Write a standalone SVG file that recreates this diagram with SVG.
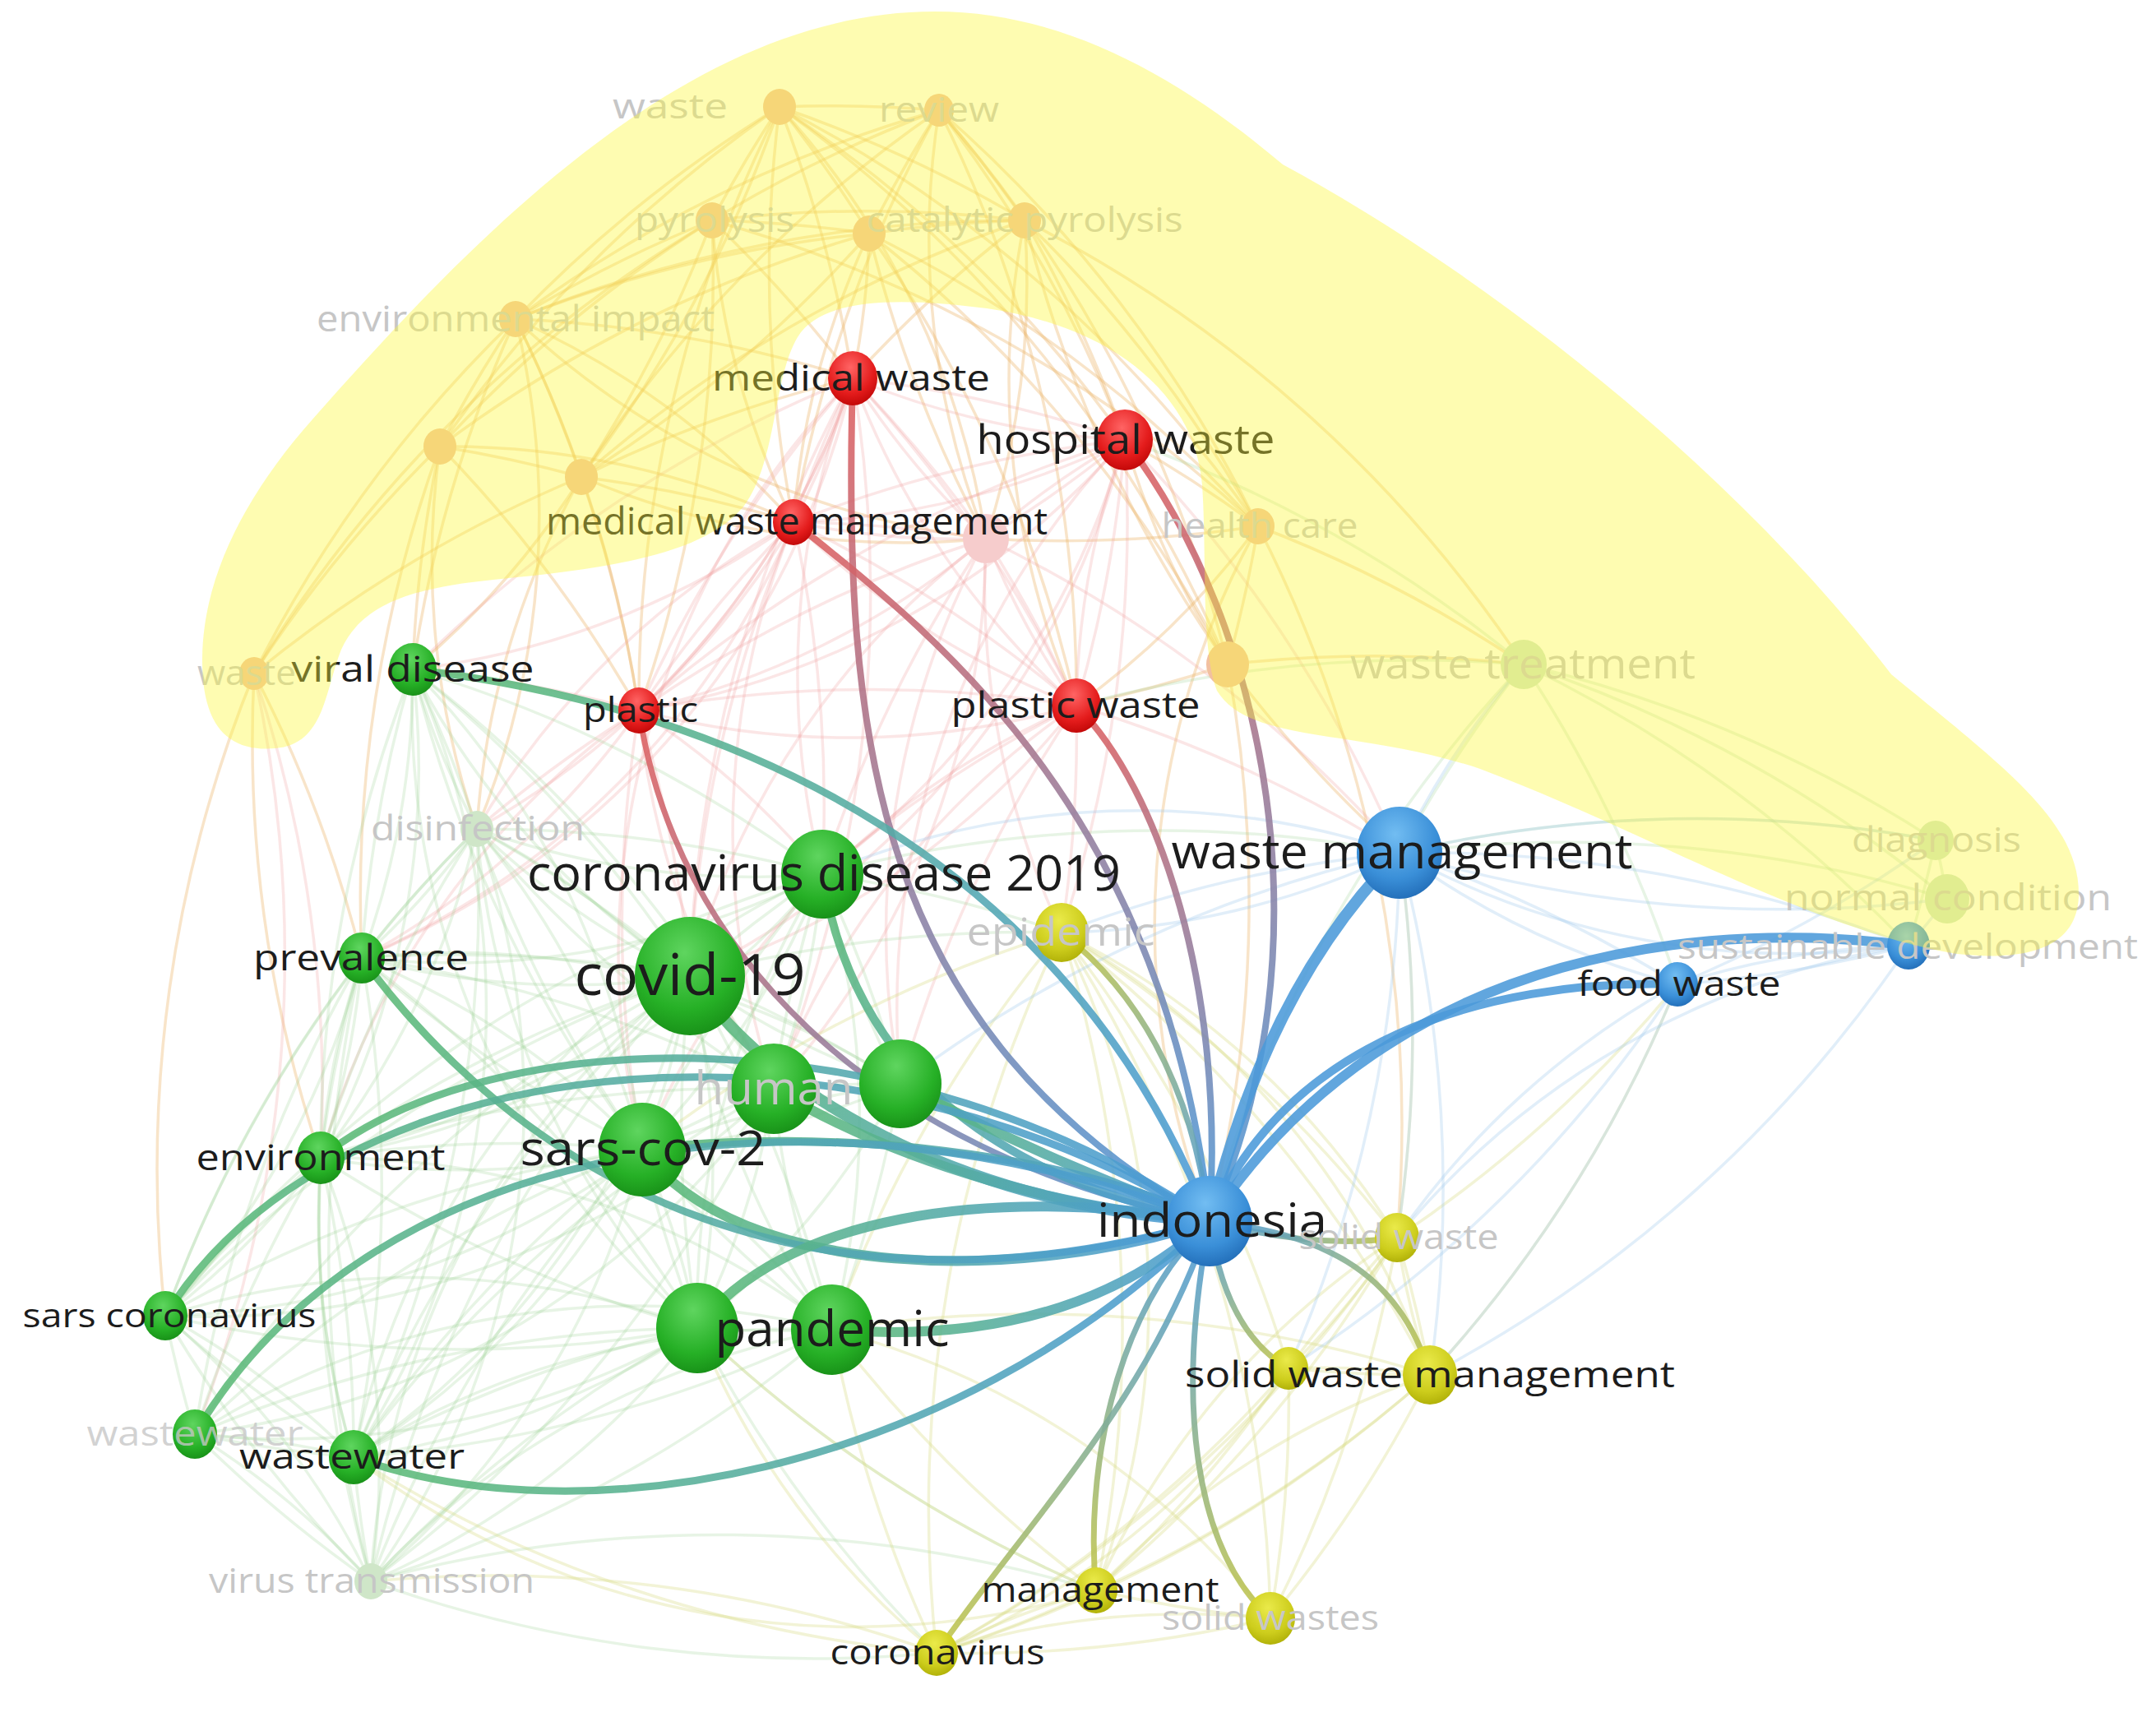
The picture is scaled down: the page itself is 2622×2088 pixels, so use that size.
<svg xmlns="http://www.w3.org/2000/svg" width="2622" height="2088" viewBox="0 0 2622 2088">
<style>
.fo,.fp,.fg,.fy,.fb{fill:none;stroke-width:3.5}
.fo{stroke:#ecb46a;stroke-opacity:.36}
.fp{stroke:#ee9e9e;stroke-opacity:.26}
.fg{stroke:#9ad094;stroke-opacity:.24}
.fy{stroke:#d9db86;stroke-opacity:.34}
.fb{stroke:#9cc6ea;stroke-opacity:.3}
.me{fill:none;stroke-opacity:.88;stroke-linecap:round}
.cR{stop-color:#df5e5e}.cG{stop-color:#5dbb74}.cB{stop-color:#4b9ad9}.cY{stop-color:#c3c548}
.lb{font-family:"Open Sans","Liberation Sans",sans-serif;fill:#1c1c1c;text-anchor:middle}
.fd{fill:#c6c6c6}
.nG{fill:url(#rG)}.nR{fill:url(#rR)}.nB{fill:url(#rB)}.nY{fill:url(#rY)}
.nfo{fill:#f2c0a0}.nfg{fill:#cfe6c8}.nfp{fill:#f6cccc}
</style>
<defs>
<radialGradient id="rG" cx="0.45" cy="0.3" r="0.8"><stop offset="0" stop-color="#5fd55f"/><stop offset="0.6" stop-color="#26b026"/><stop offset="1" stop-color="#138513"/></radialGradient>
<radialGradient id="rR" cx="0.45" cy="0.3" r="0.8"><stop offset="0" stop-color="#ff6464"/><stop offset="0.6" stop-color="#e41c1c"/><stop offset="1" stop-color="#b50000"/></radialGradient>
<radialGradient id="rB" cx="0.45" cy="0.3" r="0.8"><stop offset="0" stop-color="#72bdf2"/><stop offset="0.6" stop-color="#3a8fd8"/><stop offset="1" stop-color="#1a62ad"/></radialGradient>
<radialGradient id="rY" cx="0.45" cy="0.3" r="0.8"><stop offset="0" stop-color="#eaea4a"/><stop offset="0.6" stop-color="#cdcd1c"/><stop offset="1" stop-color="#a5a500"/></radialGradient>
<linearGradient id="g1" gradientUnits="userSpaceOnUse" x1="1037" y1="460" x2="1471" y2="1485"><stop offset="0" class="cR"/><stop offset="1" class="cB"/></linearGradient>
<linearGradient id="g2" gradientUnits="userSpaceOnUse" x1="965" y1="635" x2="1471" y2="1485"><stop offset="0" class="cR"/><stop offset="1" class="cB"/></linearGradient>
<linearGradient id="g3" gradientUnits="userSpaceOnUse" x1="1368" y1="535" x2="1471" y2="1485"><stop offset="0" class="cR"/><stop offset="1" class="cB"/></linearGradient>
<linearGradient id="g4" gradientUnits="userSpaceOnUse" x1="1309" y1="858" x2="1471" y2="1485"><stop offset="0" class="cR"/><stop offset="1" class="cB"/></linearGradient>
<linearGradient id="g5" gradientUnits="userSpaceOnUse" x1="777" y1="864" x2="1471" y2="1485"><stop offset="0" class="cR"/><stop offset="1" class="cB"/></linearGradient>
<linearGradient id="g6" gradientUnits="userSpaceOnUse" x1="502" y1="814" x2="1471" y2="1485"><stop offset="0" class="cG"/><stop offset="1" class="cB"/></linearGradient>
<linearGradient id="g7" gradientUnits="userSpaceOnUse" x1="1291" y1="1134" x2="1471" y2="1485"><stop offset="0" class="cY"/><stop offset="1" class="cB"/></linearGradient>
<linearGradient id="g8" gradientUnits="userSpaceOnUse" x1="1000" y1="1063" x2="1471" y2="1485"><stop offset="0" class="cG"/><stop offset="1" class="cB"/></linearGradient>
<linearGradient id="g9" gradientUnits="userSpaceOnUse" x1="839" y1="1187" x2="1471" y2="1485"><stop offset="0" class="cG"/><stop offset="1" class="cB"/></linearGradient>
<linearGradient id="g10" gradientUnits="userSpaceOnUse" x1="941" y1="1324" x2="1471" y2="1485"><stop offset="0" class="cG"/><stop offset="1" class="cB"/></linearGradient>
<linearGradient id="g11" gradientUnits="userSpaceOnUse" x1="1095" y1="1318" x2="1471" y2="1485"><stop offset="0" class="cG"/><stop offset="1" class="cB"/></linearGradient>
<linearGradient id="g12" gradientUnits="userSpaceOnUse" x1="781" y1="1398" x2="1471" y2="1485"><stop offset="0" class="cG"/><stop offset="1" class="cB"/></linearGradient>
<linearGradient id="g13" gradientUnits="userSpaceOnUse" x1="440" y1="1165" x2="1471" y2="1485"><stop offset="0" class="cG"/><stop offset="1" class="cB"/></linearGradient>
<linearGradient id="g14" gradientUnits="userSpaceOnUse" x1="390" y1="1408" x2="1471" y2="1485"><stop offset="0" class="cG"/><stop offset="1" class="cB"/></linearGradient>
<linearGradient id="g15" gradientUnits="userSpaceOnUse" x1="201" y1="1600" x2="1471" y2="1485"><stop offset="0" class="cG"/><stop offset="1" class="cB"/></linearGradient>
<linearGradient id="g16" gradientUnits="userSpaceOnUse" x1="237" y1="1744" x2="1471" y2="1485"><stop offset="0" class="cG"/><stop offset="1" class="cB"/></linearGradient>
<linearGradient id="g17" gradientUnits="userSpaceOnUse" x1="430" y1="1772" x2="1471" y2="1485"><stop offset="0" class="cG"/><stop offset="1" class="cB"/></linearGradient>
<linearGradient id="g18" gradientUnits="userSpaceOnUse" x1="848" y1="1615" x2="1471" y2="1485"><stop offset="0" class="cG"/><stop offset="1" class="cB"/></linearGradient>
<linearGradient id="g19" gradientUnits="userSpaceOnUse" x1="1012" y1="1617" x2="1471" y2="1485"><stop offset="0" class="cG"/><stop offset="1" class="cB"/></linearGradient>
<linearGradient id="g20" gradientUnits="userSpaceOnUse" x1="1699" y1="1505" x2="1471" y2="1485"><stop offset="0" class="cY"/><stop offset="1" class="cB"/></linearGradient>
<linearGradient id="g21" gradientUnits="userSpaceOnUse" x1="1739" y1="1672" x2="1471" y2="1485"><stop offset="0" class="cY"/><stop offset="1" class="cB"/></linearGradient>
<linearGradient id="g22" gradientUnits="userSpaceOnUse" x1="1567" y1="1664" x2="1471" y2="1485"><stop offset="0" class="cY"/><stop offset="1" class="cB"/></linearGradient>
<linearGradient id="g23" gradientUnits="userSpaceOnUse" x1="1333" y1="1934" x2="1471" y2="1485"><stop offset="0" class="cY"/><stop offset="1" class="cB"/></linearGradient>
<linearGradient id="g24" gradientUnits="userSpaceOnUse" x1="1545" y1="1968" x2="1471" y2="1485"><stop offset="0" class="cY"/><stop offset="1" class="cB"/></linearGradient>
<linearGradient id="g25" gradientUnits="userSpaceOnUse" x1="1139" y1="2010" x2="1471" y2="1485"><stop offset="0" class="cY"/><stop offset="1" class="cB"/></linearGradient>
</defs>
<rect width="2622" height="2088" fill="#ffffff"/>
<g id="connectors">
<g id="faint-edges">
<path class="fo" d="M948 130A1600 1600 0 0 1 1142 134"/>
<path class="fo" d="M948 130A1600 1600 0 0 0 866 268"/>
<path class="fo" d="M948 130A1600 1600 0 0 1 1057 284"/>
<path class="fo" d="M948 130A1600 1600 0 0 1 1246 268"/>
<path class="fo" d="M948 130A1600 1600 0 0 0 627 388"/>
<path class="fo" d="M948 130A1600 1600 0 0 0 535 543"/>
<path class="fo" d="M948 130A1600 1600 0 0 1 707 580"/>
<path class="fo" d="M948 130A1600 1600 0 0 1 1530 640"/>
<path class="fo" d="M948 130A1600 1600 0 0 1 1037 460"/>
<path class="fo" d="M948 130A1600 1600 0 0 1 1368 535"/>
<path class="fo" d="M948 130A1600 1600 0 0 0 965 635"/>
<path class="fo" d="M948 130A1600 1600 0 0 1 1493 808"/>
<path class="fo" d="M948 130A1600 1600 0 0 0 777 864"/>
<path class="fo" d="M1142 134A1600 1600 0 0 0 866 268"/>
<path class="fo" d="M1142 134A1600 1600 0 0 0 1057 284"/>
<path class="fo" d="M1142 134A1600 1600 0 0 1 1246 268"/>
<path class="fo" d="M1142 134A1600 1600 0 0 0 627 388"/>
<path class="fo" d="M1142 134A1600 1600 0 0 0 707 580"/>
<path class="fo" d="M1142 134A1600 1600 0 0 1 1530 640"/>
<path class="fo" d="M1142 134A1600 1600 0 0 1 1493 808"/>
<path class="fo" d="M1142 134A1600 1600 0 0 1 1368 535"/>
<path class="fo" d="M1142 134A1600 1600 0 0 0 965 635"/>
<path class="fo" d="M1142 134A1600 1600 0 0 1 1309 858"/>
<path class="fo" d="M866 268A1600 1600 0 0 1 1057 284"/>
<path class="fo" d="M866 268A1600 1600 0 0 1 1246 268"/>
<path class="fo" d="M866 268A1600 1600 0 0 0 627 388"/>
<path class="fo" d="M866 268A1600 1600 0 0 0 535 543"/>
<path class="fo" d="M866 268A1600 1600 0 0 1 707 580"/>
<path class="fo" d="M866 268A1600 1600 0 0 1 1037 460"/>
<path class="fo" d="M866 268A1600 1600 0 0 1 777 864"/>
<path class="fo" d="M866 268A1600 1600 0 0 0 309 819"/>
<path class="fo" d="M866 268A1600 1600 0 0 1 1530 640"/>
<path class="fo" d="M1057 284A1600 1600 0 0 1 1246 268"/>
<path class="fo" d="M1057 284A1600 1600 0 0 0 627 388"/>
<path class="fo" d="M1057 284A1600 1600 0 0 0 535 543"/>
<path class="fo" d="M1057 284A1600 1600 0 0 1 707 580"/>
<path class="fo" d="M1057 284A1600 1600 0 0 1 1530 640"/>
<path class="fo" d="M1057 284A1600 1600 0 0 1 1493 808"/>
<path class="fo" d="M1057 284A1600 1600 0 0 1 1309 858"/>
<path class="fo" d="M1057 284A1600 1600 0 0 0 1199 655"/>
<path class="fo" d="M1246 268A1600 1600 0 0 0 627 388"/>
<path class="fo" d="M1246 268A1600 1600 0 0 0 707 580"/>
<path class="fo" d="M1246 268A1600 1600 0 0 1 1530 640"/>
<path class="fo" d="M1246 268A1600 1600 0 0 0 1493 808"/>
<path class="fo" d="M1246 268A1600 1600 0 0 1 1853 808"/>
<path class="fo" d="M1246 268A1600 1600 0 0 1 1368 535"/>
<path class="fo" d="M1246 268A1600 1600 0 0 0 1037 460"/>
<path class="fo" d="M627 388A1600 1600 0 0 0 535 543"/>
<path class="fo" d="M627 388A1600 1600 0 0 1 707 580"/>
<path class="fo" d="M627 388A1600 1600 0 0 0 309 819"/>
<path class="fo" d="M627 388A1600 1600 0 0 0 502 814"/>
<path class="fo" d="M627 388A1600 1600 0 0 1 777 864"/>
<path class="fo" d="M627 388A1600 1600 0 0 1 1037 460"/>
<path class="fo" d="M535 543A1600 1600 0 0 1 707 580"/>
<path class="fo" d="M535 543A1600 1600 0 0 0 309 819"/>
<path class="fo" d="M535 543A1600 1600 0 0 0 502 814"/>
<path class="fo" d="M535 543A1600 1600 0 0 1 777 864"/>
<path class="fo" d="M535 543A1600 1600 0 0 0 440 1165"/>
<path class="fo" d="M707 580A1600 1600 0 0 1 965 635"/>
<path class="fo" d="M707 580A1600 1600 0 0 1 777 864"/>
<path class="fo" d="M707 580A1600 1600 0 0 0 309 819"/>
<path class="fo" d="M707 580A1600 1600 0 0 1 1037 460"/>
<path class="fo" d="M1493 808A1600 1600 0 0 0 1530 640"/>
<path class="fo" d="M1493 808A1600 1600 0 0 1 1309 858"/>
<path class="fo" d="M1493 808A1600 1600 0 0 1 1853 808"/>
<path class="fo" d="M1493 808A1600 1600 0 0 1 1471 1485"/>
<path class="fo" d="M1493 808A1600 1600 0 0 0 1702 1037"/>
<path class="fo" d="M1530 640A1600 1600 0 0 0 1368 535"/>
<path class="fo" d="M1530 640A1600 1600 0 0 1 1199 655"/>
<path class="fo" d="M1530 640A1600 1600 0 0 1 1853 808"/>
<path class="fo" d="M1530 640A1600 1600 0 0 1 1699 1505"/>
<path class="fo" d="M309 819A1600 1600 0 0 0 390 1408"/>
<path class="fo" d="M309 819A1600 1600 0 0 0 201 1600"/>
<path class="fo" d="M309 819A1600 1600 0 0 1 440 1165"/>
<path class="fo" d="M948 130A1000 1000 0 0 1 1199 655"/>
<path class="fo" d="M1142 134A1000 1000 0 0 0 1199 655"/>
<path class="fo" d="M866 268A1000 1000 0 0 0 965 635"/>
<path class="fo" d="M1057 284A1000 1000 0 0 1 1037 460"/>
<path class="fo" d="M1057 284A1000 1000 0 0 0 965 635"/>
<path class="fo" d="M1246 268A1000 1000 0 0 1 1199 655"/>
<path class="fo" d="M1246 268A1000 1000 0 0 0 1309 858"/>
<path class="fo" d="M627 388A1000 1000 0 0 1 965 635"/>
<path class="fo" d="M627 388A1000 1000 0 0 0 1199 655"/>
<path class="fo" d="M535 543A1000 1000 0 0 1 965 635"/>
<path class="fo" d="M707 580A1000 1000 0 0 0 1199 655"/>
<path class="fo" d="M707 580A1000 1000 0 0 1 502 814"/>
<path class="fo" d="M535 543A1000 1000 0 0 0 580 1008"/>
<path class="fo" d="M627 388A1000 1000 0 0 1 580 1008"/>
<path class="fo" d="M707 580A1000 1000 0 0 0 580 1008"/>
<path class="fo" d="M1530 640A1000 1000 0 0 1 1309 858"/>
<path class="fo" d="M1530 640A1000 1000 0 0 0 1471 1485"/>
<path class="fo" d="M1493 808A1000 1000 0 0 1 1368 535"/>
<path class="fp" d="M1037 460A1600 1600 0 0 1 1368 535"/>
<path class="fp" d="M1037 460A1600 1600 0 0 0 965 635"/>
<path class="fp" d="M1037 460A1600 1600 0 0 1 1199 655"/>
<path class="fp" d="M1037 460A1600 1600 0 0 0 777 864"/>
<path class="fp" d="M1037 460A1600 1600 0 0 1 1309 858"/>
<path class="fp" d="M1037 460A1600 1600 0 0 0 839 1187"/>
<path class="fp" d="M1037 460A1600 1600 0 0 1 941 1324"/>
<path class="fp" d="M1037 460A1600 1600 0 0 0 502 814"/>
<path class="fp" d="M1368 535A1600 1600 0 0 0 965 635"/>
<path class="fp" d="M1368 535A1600 1600 0 0 1 1199 655"/>
<path class="fp" d="M1368 535A1600 1600 0 0 1 1309 858"/>
<path class="fp" d="M1368 535A1600 1600 0 0 0 777 864"/>
<path class="fp" d="M1368 535A1600 1600 0 0 1 1702 1037"/>
<path class="fp" d="M1368 535A1600 1600 0 0 1 1291 1134"/>
<path class="fp" d="M965 635A1600 1600 0 0 1 1199 655"/>
<path class="fp" d="M965 635A1600 1600 0 0 0 777 864"/>
<path class="fp" d="M965 635A1600 1600 0 0 1 1309 858"/>
<path class="fp" d="M965 635A1600 1600 0 0 0 839 1187"/>
<path class="fp" d="M965 635A1600 1600 0 0 1 1000 1063"/>
<path class="fp" d="M1199 655A1600 1600 0 0 0 777 864"/>
<path class="fp" d="M1199 655A1600 1600 0 0 1 1309 858"/>
<path class="fp" d="M1199 655A1600 1600 0 0 0 1000 1063"/>
<path class="fp" d="M1199 655A1600 1600 0 0 1 1702 1037"/>
<path class="fp" d="M777 864A1600 1600 0 0 1 1309 858"/>
<path class="fp" d="M777 864A1600 1600 0 0 0 502 814"/>
<path class="fp" d="M777 864A1600 1600 0 0 1 839 1187"/>
<path class="fp" d="M777 864A1600 1600 0 0 0 781 1398"/>
<path class="fp" d="M777 864A1600 1600 0 0 0 580 1008"/>
<path class="fp" d="M1309 858A1600 1600 0 0 1 1702 1037"/>
<path class="fp" d="M1309 858A1600 1600 0 0 1 1291 1134"/>
<path class="fp" d="M1309 858A1600 1600 0 0 0 1000 1063"/>
<path class="fp" d="M1309 858A1600 1600 0 0 0 1095 1318"/>
<path class="fp" d="M309 819A1600 1600 0 0 1 390 1408"/>
<path class="fp" d="M309 819A1600 1600 0 0 1 237 1744"/>
<path class="fp" d="M1037 460A1000 1000 0 0 1 580 1008"/>
<path class="fp" d="M1037 460A1000 1000 0 0 0 1000 1063"/>
<path class="fp" d="M1037 460A1000 1000 0 0 1 440 1165"/>
<path class="fp" d="M1037 460A1000 1000 0 0 0 781 1398"/>
<path class="fp" d="M1368 535A1000 1000 0 0 1 1000 1063"/>
<path class="fp" d="M1368 535A1000 1000 0 0 0 1095 1318"/>
<path class="fp" d="M1368 535A1000 1000 0 0 1 839 1187"/>
<path class="fp" d="M965 635A1000 1000 0 0 0 580 1008"/>
<path class="fp" d="M965 635A1000 1000 0 0 1 502 814"/>
<path class="fp" d="M965 635A1000 1000 0 0 0 941 1324"/>
<path class="fp" d="M965 635A1000 1000 0 0 1 440 1165"/>
<path class="fp" d="M1199 655A1000 1000 0 0 0 839 1187"/>
<path class="fp" d="M1199 655A1000 1000 0 0 1 941 1324"/>
<path class="fp" d="M1199 655A1000 1000 0 0 0 1095 1318"/>
<path class="fp" d="M777 864A1000 1000 0 0 1 440 1165"/>
<path class="fp" d="M777 864A1000 1000 0 0 0 390 1408"/>
<path class="fp" d="M777 864A1000 1000 0 0 0 941 1324"/>
<path class="fp" d="M777 864A1000 1000 0 0 1 1000 1063"/>
<path class="fp" d="M1309 858A1000 1000 0 0 1 839 1187"/>
<path class="fp" d="M1309 858A1000 1000 0 0 0 941 1324"/>
<path class="fp" d="M1309 858A1000 1000 0 0 0 781 1398"/>
<path class="fp" d="M1199 655A1000 1000 0 0 0 1291 1134"/>
<path class="fp" d="M1037 460A1000 1000 0 0 0 1368 535"/>
<path class="fp" d="M1037 460A1000 1000 0 0 1 965 635"/>
<path class="fp" d="M1037 460A1000 1000 0 0 0 1199 655"/>
<path class="fp" d="M1037 460A1000 1000 0 0 1 777 864"/>
<path class="fp" d="M1037 460A1000 1000 0 0 0 1309 858"/>
<path class="fp" d="M1368 535A1000 1000 0 0 1 965 635"/>
<path class="fp" d="M1368 535A1000 1000 0 0 0 1199 655"/>
<path class="fp" d="M1368 535A1000 1000 0 0 0 1309 858"/>
<path class="fp" d="M1368 535A1000 1000 0 0 1 777 864"/>
<path class="fp" d="M965 635A1000 1000 0 0 0 1199 655"/>
<path class="fp" d="M965 635A1000 1000 0 0 1 777 864"/>
<path class="fp" d="M965 635A1000 1000 0 0 0 1309 858"/>
<path class="fp" d="M1199 655A1000 1000 0 0 1 777 864"/>
<path class="fp" d="M1199 655A1000 1000 0 0 0 1309 858"/>
<path class="fp" d="M777 864A1000 1000 0 0 0 1309 858"/>
<path class="fg" d="M502 814A1600 1600 0 0 1 580 1008"/>
<path class="fg" d="M502 814A1600 1600 0 0 0 440 1165"/>
<path class="fg" d="M502 814A1600 1600 0 0 1 1000 1063"/>
<path class="fg" d="M502 814A1600 1600 0 0 1 839 1187"/>
<path class="fg" d="M502 814A1600 1600 0 0 0 390 1408"/>
<path class="fg" d="M502 814A1600 1600 0 0 0 781 1398"/>
<path class="fg" d="M502 814A1600 1600 0 0 1 941 1324"/>
<path class="fg" d="M580 1008A1600 1600 0 0 0 440 1165"/>
<path class="fg" d="M580 1008A1600 1600 0 0 1 839 1187"/>
<path class="fg" d="M580 1008A1600 1600 0 0 1 1000 1063"/>
<path class="fg" d="M580 1008A1600 1600 0 0 0 941 1324"/>
<path class="fg" d="M580 1008A1600 1600 0 0 0 390 1408"/>
<path class="fg" d="M580 1008A1600 1600 0 0 0 201 1600"/>
<path class="fg" d="M580 1008A1600 1600 0 0 1 430 1772"/>
<path class="fg" d="M580 1008A1600 1600 0 0 0 781 1398"/>
<path class="fg" d="M440 1165A1600 1600 0 0 0 390 1408"/>
<path class="fg" d="M440 1165A1600 1600 0 0 0 201 1600"/>
<path class="fg" d="M440 1165A1600 1600 0 0 1 839 1187"/>
<path class="fg" d="M440 1165A1600 1600 0 0 1 941 1324"/>
<path class="fg" d="M440 1165A1600 1600 0 0 0 781 1398"/>
<path class="fg" d="M440 1165A1600 1600 0 0 0 237 1744"/>
<path class="fg" d="M440 1165A1600 1600 0 0 1 430 1772"/>
<path class="fg" d="M440 1165A1600 1600 0 0 0 451 1923"/>
<path class="fg" d="M440 1165A1600 1600 0 0 1 848 1615"/>
<path class="fg" d="M390 1408A1600 1600 0 0 0 201 1600"/>
<path class="fg" d="M390 1408A1600 1600 0 0 0 237 1744"/>
<path class="fg" d="M390 1408A1600 1600 0 0 1 430 1772"/>
<path class="fg" d="M390 1408A1600 1600 0 0 0 451 1923"/>
<path class="fg" d="M390 1408A1600 1600 0 0 1 839 1187"/>
<path class="fg" d="M390 1408A1600 1600 0 0 1 781 1398"/>
<path class="fg" d="M390 1408A1600 1600 0 0 0 848 1615"/>
<path class="fg" d="M390 1408A1600 1600 0 0 1 941 1324"/>
<path class="fg" d="M201 1600A1600 1600 0 0 0 237 1744"/>
<path class="fg" d="M201 1600A1600 1600 0 0 0 430 1772"/>
<path class="fg" d="M201 1600A1600 1600 0 0 0 451 1923"/>
<path class="fg" d="M201 1600A1600 1600 0 0 1 839 1187"/>
<path class="fg" d="M201 1600A1600 1600 0 0 1 781 1398"/>
<path class="fg" d="M201 1600A1600 1600 0 0 0 848 1615"/>
<path class="fg" d="M201 1600A1600 1600 0 0 1 1000 1063"/>
<path class="fg" d="M237 1744A1600 1600 0 0 0 430 1772"/>
<path class="fg" d="M237 1744A1600 1600 0 0 0 451 1923"/>
<path class="fg" d="M237 1744A1600 1600 0 0 1 848 1615"/>
<path class="fg" d="M237 1744A1600 1600 0 0 1 781 1398"/>
<path class="fg" d="M237 1744A1600 1600 0 0 1 839 1187"/>
<path class="fg" d="M430 1772A1600 1600 0 0 0 451 1923"/>
<path class="fg" d="M430 1772A1600 1600 0 0 1 848 1615"/>
<path class="fg" d="M430 1772A1600 1600 0 0 0 1012 1617"/>
<path class="fg" d="M430 1772A1600 1600 0 0 1 781 1398"/>
<path class="fg" d="M430 1772A1600 1600 0 0 1 839 1187"/>
<path class="fg" d="M430 1772A1600 1600 0 0 1 941 1324"/>
<path class="fg" d="M451 1923A1600 1600 0 0 1 848 1615"/>
<path class="fg" d="M451 1923A1600 1600 0 0 0 1012 1617"/>
<path class="fg" d="M451 1923A1600 1600 0 0 1 781 1398"/>
<path class="fg" d="M451 1923A1600 1600 0 0 1 839 1187"/>
<path class="fg" d="M451 1923A1600 1600 0 0 0 941 1324"/>
<path class="fg" d="M451 1923A1600 1600 0 0 0 1139 2010"/>
<path class="fg" d="M451 1923A1600 1600 0 0 1 1333 1934"/>
<path class="fg" d="M839 1187A1600 1600 0 0 1 1000 1063"/>
<path class="fg" d="M839 1187A1600 1600 0 0 0 941 1324"/>
<path class="fg" d="M839 1187A1600 1600 0 0 1 1095 1318"/>
<path class="fg" d="M839 1187A1600 1600 0 0 0 848 1615"/>
<path class="fg" d="M839 1187A1600 1600 0 0 1 1012 1617"/>
<path class="fg" d="M839 1187A1600 1600 0 0 1 1291 1134"/>
<path class="fg" d="M1000 1063A1600 1600 0 0 0 941 1324"/>
<path class="fg" d="M1000 1063A1600 1600 0 0 1 1095 1318"/>
<path class="fg" d="M1000 1063A1600 1600 0 0 1 1291 1134"/>
<path class="fg" d="M1000 1063A1600 1600 0 0 1 1702 1037"/>
<path class="fg" d="M1000 1063A1600 1600 0 0 0 781 1398"/>
<path class="fg" d="M781 1398A1600 1600 0 0 0 848 1615"/>
<path class="fg" d="M781 1398A1600 1600 0 0 0 1012 1617"/>
<path class="fg" d="M781 1398A1600 1600 0 0 1 941 1324"/>
<path class="fg" d="M781 1398A1600 1600 0 0 1 1095 1318"/>
<path class="fg" d="M848 1615A1600 1600 0 0 0 1012 1617"/>
<path class="fg" d="M848 1615A1600 1600 0 0 0 1139 2010"/>
<path class="fg" d="M848 1615A1600 1600 0 0 0 1333 1934"/>
<path class="fg" d="M941 1324A1600 1600 0 0 1 1095 1318"/>
<path class="fg" d="M1095 1318A1600 1600 0 0 1 1012 1617"/>
<path class="fg" d="M502 814A1000 1000 0 0 0 580 1008"/>
<path class="fg" d="M502 814A1000 1000 0 0 1 440 1165"/>
<path class="fg" d="M502 814A1000 1000 0 0 0 839 1187"/>
<path class="fg" d="M502 814A1000 1000 0 0 1 390 1408"/>
<path class="fg" d="M502 814A1000 1000 0 0 1 781 1398"/>
<path class="fg" d="M502 814A1000 1000 0 0 0 848 1615"/>
<path class="fg" d="M502 814A1000 1000 0 0 1 430 1772"/>
<path class="fg" d="M580 1008A1000 1000 0 0 1 440 1165"/>
<path class="fg" d="M580 1008A1000 1000 0 0 0 839 1187"/>
<path class="fg" d="M580 1008A1000 1000 0 0 0 1000 1063"/>
<path class="fg" d="M580 1008A1000 1000 0 0 1 941 1324"/>
<path class="fg" d="M580 1008A1000 1000 0 0 1 390 1408"/>
<path class="fg" d="M580 1008A1000 1000 0 0 1 781 1398"/>
<path class="fg" d="M580 1008A1000 1000 0 0 0 848 1615"/>
<path class="fg" d="M580 1008A1000 1000 0 0 1 451 1923"/>
<path class="fg" d="M440 1165A1000 1000 0 0 1 390 1408"/>
<path class="fg" d="M440 1165A1000 1000 0 0 1 201 1600"/>
<path class="fg" d="M440 1165A1000 1000 0 0 0 839 1187"/>
<path class="fg" d="M440 1165A1000 1000 0 0 1 781 1398"/>
<path class="fg" d="M440 1165A1000 1000 0 0 0 430 1772"/>
<path class="fg" d="M440 1165A1000 1000 0 0 0 1000 1063"/>
<path class="fg" d="M440 1165A1000 1000 0 0 1 1095 1318"/>
<path class="fg" d="M390 1408A1000 1000 0 0 1 201 1600"/>
<path class="fg" d="M390 1408A1000 1000 0 0 0 430 1772"/>
<path class="fg" d="M390 1408A1000 1000 0 0 1 451 1923"/>
<path class="fg" d="M390 1408A1000 1000 0 0 0 839 1187"/>
<path class="fg" d="M390 1408A1000 1000 0 0 0 781 1398"/>
<path class="fg" d="M390 1408A1000 1000 0 0 1 1012 1617"/>
<path class="fg" d="M390 1408A1000 1000 0 0 0 1000 1063"/>
<path class="fg" d="M201 1600A1000 1000 0 0 1 430 1772"/>
<path class="fg" d="M201 1600A1000 1000 0 0 1 451 1923"/>
<path class="fg" d="M201 1600A1000 1000 0 0 0 781 1398"/>
<path class="fg" d="M201 1600A1000 1000 0 0 1 848 1615"/>
<path class="fg" d="M201 1600A1000 1000 0 0 0 941 1324"/>
<path class="fg" d="M237 1744A1000 1000 0 0 1 430 1772"/>
<path class="fg" d="M237 1744A1000 1000 0 0 1 451 1923"/>
<path class="fg" d="M237 1744A1000 1000 0 0 0 848 1615"/>
<path class="fg" d="M237 1744A1000 1000 0 0 1 1012 1617"/>
<path class="fg" d="M237 1744A1000 1000 0 0 0 941 1324"/>
<path class="fg" d="M430 1772A1000 1000 0 0 0 848 1615"/>
<path class="fg" d="M430 1772A1000 1000 0 0 1 1012 1617"/>
<path class="fg" d="M430 1772A1000 1000 0 0 0 781 1398"/>
<path class="fg" d="M430 1772A1000 1000 0 0 0 839 1187"/>
<path class="fg" d="M430 1772A1000 1000 0 0 1 1000 1063"/>
<path class="fg" d="M451 1923A1000 1000 0 0 0 848 1615"/>
<path class="fg" d="M451 1923A1000 1000 0 0 1 1012 1617"/>
<path class="fg" d="M451 1923A1000 1000 0 0 0 781 1398"/>
<path class="fg" d="M451 1923A1000 1000 0 0 1 839 1187"/>
<path class="fg" d="M839 1187A1000 1000 0 0 1 848 1615"/>
<path class="fg" d="M839 1187A1000 1000 0 0 0 1012 1617"/>
<path class="fg" d="M839 1187A1000 1000 0 0 0 1095 1318"/>
<path class="fg" d="M839 1187A1000 1000 0 0 1 781 1398"/>
<path class="fg" d="M1000 1063A1000 1000 0 0 1 941 1324"/>
<path class="fg" d="M1000 1063A1000 1000 0 0 0 1095 1318"/>
<path class="fg" d="M1000 1063A1000 1000 0 0 1 781 1398"/>
<path class="fg" d="M1000 1063A1000 1000 0 0 0 848 1615"/>
<path class="fg" d="M1000 1063A1000 1000 0 0 1 1012 1617"/>
<path class="fg" d="M781 1398A1000 1000 0 0 1 848 1615"/>
<path class="fg" d="M781 1398A1000 1000 0 0 1 1012 1617"/>
<path class="fg" d="M781 1398A1000 1000 0 0 0 1095 1318"/>
<path class="fg" d="M848 1615A1000 1000 0 0 0 941 1324"/>
<path class="fg" d="M1012 1617A1000 1000 0 0 1 941 1324"/>
<path class="fg" d="M848 1615A1000 1000 0 0 0 1095 1318"/>
<path class="fg" d="M1853 808A1600 1600 0 0 1 2354 1022"/>
<path class="fg" d="M1853 808A1600 1600 0 0 1 2368 1093"/>
<path class="fg" d="M1853 808A1600 1600 0 0 0 1702 1037"/>
<path class="fg" d="M1853 808A1600 1600 0 0 0 1368 535"/>
<path class="fg" d="M1853 808A1600 1600 0 0 0 1309 858"/>
<path class="fg" d="M1853 808A1600 1600 0 0 0 1471 1485"/>
<path class="fg" d="M1853 808A1600 1600 0 0 1 2040 1197"/>
<path class="fg" d="M1853 808A1600 1600 0 0 1 2321 1150"/>
<path class="fg" d="M2354 1022A1600 1600 0 0 1 2368 1093"/>
<path class="fg" d="M2354 1022A1600 1600 0 0 0 1702 1037"/>
<path class="fg" d="M2368 1093A1600 1600 0 0 0 1702 1037"/>
<path class="fg" d="M2354 1022A1600 1600 0 0 1 2321 1150"/>
<path class="fy" d="M1699 1505A1600 1600 0 0 1 1739 1672"/>
<path class="fy" d="M1699 1505A1600 1600 0 0 0 1567 1664"/>
<path class="fy" d="M1699 1505A1600 1600 0 0 1 1333 1934"/>
<path class="fy" d="M1699 1505A1600 1600 0 0 1 1545 1968"/>
<path class="fy" d="M1699 1505A1600 1600 0 0 1 1139 2010"/>
<path class="fy" d="M1699 1505A1600 1600 0 0 0 1702 1037"/>
<path class="fy" d="M1699 1505A1600 1600 0 0 0 2040 1197"/>
<path class="fy" d="M1699 1505A1600 1600 0 0 0 1291 1134"/>
<path class="fy" d="M1739 1672A1600 1600 0 0 1 1567 1664"/>
<path class="fy" d="M1739 1672A1600 1600 0 0 1 1333 1934"/>
<path class="fy" d="M1739 1672A1600 1600 0 0 1 1545 1968"/>
<path class="fy" d="M1739 1672A1600 1600 0 0 1 1139 2010"/>
<path class="fy" d="M1739 1672A1600 1600 0 0 0 1012 1617"/>
<path class="fy" d="M1739 1672A1600 1600 0 0 0 1291 1134"/>
<path class="fy" d="M1739 1672A1600 1600 0 0 0 2040 1197"/>
<path class="fy" d="M1333 1934A1600 1600 0 0 1 1139 2010"/>
<path class="fy" d="M1333 1934A1600 1600 0 0 0 1545 1968"/>
<path class="fy" d="M1333 1934A1600 1600 0 0 0 1567 1664"/>
<path class="fy" d="M1333 1934A1600 1600 0 0 1 848 1615"/>
<path class="fy" d="M1333 1934A1600 1600 0 0 0 1291 1134"/>
<path class="fy" d="M1333 1934A1600 1600 0 0 1 1012 1617"/>
<path class="fy" d="M1545 1968A1600 1600 0 0 1 1139 2010"/>
<path class="fy" d="M1545 1968A1600 1600 0 0 0 1567 1664"/>
<path class="fy" d="M1545 1968A1600 1600 0 0 0 1291 1134"/>
<path class="fy" d="M1139 2010A1600 1600 0 0 1 430 1772"/>
<path class="fy" d="M1139 2010A1600 1600 0 0 0 451 1923"/>
<path class="fy" d="M1139 2010A1600 1600 0 0 1 1012 1617"/>
<path class="fy" d="M1139 2010A1600 1600 0 0 0 1567 1664"/>
<path class="fy" d="M1139 2010A1600 1600 0 0 1 1291 1134"/>
<path class="fy" d="M1291 1134A1600 1600 0 0 1 1567 1664"/>
<path class="fy" d="M1291 1134A1600 1600 0 0 0 1012 1617"/>
<path class="fy" d="M1291 1134A1600 1600 0 0 0 781 1398"/>
<path class="fy" d="M1699 1505A1000 1000 0 0 0 1739 1672"/>
<path class="fy" d="M1699 1505A1000 1000 0 0 1 1567 1664"/>
<path class="fy" d="M1699 1505A1000 1000 0 0 0 1333 1934"/>
<path class="fy" d="M1739 1672A1000 1000 0 0 0 1567 1664"/>
<path class="fy" d="M1739 1672A1000 1000 0 0 0 1333 1934"/>
<path class="fy" d="M1333 1934A1000 1000 0 0 0 1139 2010"/>
<path class="fy" d="M1545 1968A1000 1000 0 0 0 1139 2010"/>
<path class="fy" d="M1567 1664A1000 1000 0 0 1 1139 2010"/>
<path class="fy" d="M1291 1134A1000 1000 0 0 1 1699 1505"/>
<path class="fy" d="M1291 1134A1000 1000 0 0 1 1739 1672"/>
<path class="fy" d="M1291 1134A1000 1000 0 0 1 1333 1934"/>
<path class="fy" d="M1139 2010A1000 1000 0 0 1 848 1615"/>
<path class="fy" d="M1333 1934A1000 1000 0 0 1 430 1772"/>
<path class="fy" d="M1545 1968A1000 1000 0 0 0 1012 1617"/>
<path class="fb" d="M1702 1037A1600 1600 0 0 1 2040 1197"/>
<path class="fb" d="M1702 1037A1600 1600 0 0 1 2321 1150"/>
<path class="fb" d="M1702 1037A1600 1600 0 0 1 2354 1022"/>
<path class="fb" d="M1702 1037A1600 1600 0 0 0 2368 1093"/>
<path class="fb" d="M1702 1037A1600 1600 0 0 1 1699 1505"/>
<path class="fb" d="M1702 1037A1600 1600 0 0 1 1739 1672"/>
<path class="fb" d="M1702 1037A1600 1600 0 0 0 1291 1134"/>
<path class="fb" d="M1702 1037A1600 1600 0 0 0 1095 1318"/>
<path class="fb" d="M1702 1037A1600 1600 0 0 1 1567 1664"/>
<path class="fb" d="M2040 1197A1600 1600 0 0 0 2321 1150"/>
<path class="fb" d="M2040 1197A1600 1600 0 0 1 1739 1672"/>
<path class="fb" d="M2040 1197A1600 1600 0 0 1 1567 1664"/>
<path class="fb" d="M2040 1197A1600 1600 0 0 0 2354 1022"/>
<path class="fb" d="M2321 1150A1600 1600 0 0 0 2368 1093"/>
<path class="fb" d="M2321 1150A1600 1600 0 0 1 1739 1672"/>
<path class="fb" d="M1702 1037A1000 1000 0 0 0 2040 1197"/>
<path class="fb" d="M1702 1037A1000 1000 0 0 0 2321 1150"/>
<path class="fb" d="M2040 1197A1000 1000 0 0 1 2321 1150"/>
<path class="fb" d="M1702 1037A1000 1000 0 0 1 1291 1134"/>
<path class="fb" d="M1702 1037A1000 1000 0 0 0 1000 1063"/>
<path class="fb" d="M2040 1197A1000 1000 0 0 0 1699 1505"/>
<path class="fb" d="M2321 1150A1000 1000 0 0 0 1699 1505"/>
<path class="fb" d="M1702 1037A1000 1000 0 0 1 1853 808"/>
</g>
<g id="main-edges">
<path class="me" stroke="url(#g1)" stroke-width="8" d="M1037 460C1025 900 1060 1250 1471 1485"/>
<path class="me" stroke="url(#g2)" stroke-width="8" d="M965 635C1150 780 1420 1000 1471 1485"/>
<path class="me" stroke="url(#g3)" stroke-width="8" d="M1368 535C1540 760 1620 1150 1471 1485"/>
<path class="me" stroke="url(#g4)" stroke-width="8" d="M1309 858C1410 960 1490 1200 1471 1485"/>
<path class="me" stroke="url(#g5)" stroke-width="7" d="M777 864C820 1150 1050 1400 1471 1485"/>
<path class="me" stroke="url(#g6)" stroke-width="9" d="M502 814C900 860 1300 1050 1471 1485"/>
<path class="me" stroke="url(#g7)" stroke-width="7" d="M1291 1134Q1440 1250 1471 1485"/>
<path class="me" stroke="url(#g8)" stroke-width="10" d="M1000 1063C1030 1250 1150 1420 1471 1485"/>
<path class="me" stroke="url(#g9)" stroke-width="14" d="M839 1187C950 1350 1200 1470 1471 1485"/>
<path class="me" stroke="url(#g10)" stroke-width="12" d="M941 1324C1100 1420 1300 1470 1471 1485"/>
<path class="me" stroke="url(#g11)" stroke-width="12" d="M1095 1318C1250 1400 1380 1450 1471 1485"/>
<path class="me" stroke="url(#g12)" stroke-width="12" d="M781 1398C900 1560 1250 1560 1471 1485"/>
<path class="me" stroke="url(#g12)" stroke-width="10" d="M781 1398C1000 1370 1300 1400 1471 1485"/>
<path class="me" stroke="url(#g13)" stroke-width="9" d="M440 1165C650 1450 1000 1620 1471 1485"/>
<path class="me" stroke="url(#g14)" stroke-width="9" d="M390 1408C600 1240 1100 1230 1471 1485"/>
<path class="me" stroke="url(#g15)" stroke-width="9" d="M201 1600C400 1280 1000 1200 1471 1485"/>
<path class="me" stroke="url(#g16)" stroke-width="9" d="M237 1744C450 1380 1000 1300 1471 1485"/>
<path class="me" stroke="url(#g17)" stroke-width="9" d="M430 1772C700 1870 1150 1800 1471 1485"/>
<path class="me" stroke="url(#g18)" stroke-width="12" d="M848 1615C950 1480 1200 1440 1471 1485"/>
<path class="me" stroke="url(#g19)" stroke-width="12" d="M1012 1617Q1300 1640 1471 1485"/>
<path class="me" stroke="#4b9ad9" stroke-width="14" d="M1702 1037Q1540 1200 1471 1485"/>
<path class="me" stroke="#4b9ad9" stroke-width="12" d="M2321 1150C2100 1120 1700 1140 1471 1485"/>
<path class="me" stroke="#4b9ad9" stroke-width="10" d="M2040 1197C1800 1190 1560 1270 1471 1485"/>
<path class="me" stroke="url(#g20)" stroke-width="7" d="M1699 1505Q1600 1520 1471 1485"/>
<path class="me" stroke="url(#g21)" stroke-width="7" d="M1739 1672C1700 1540 1600 1500 1471 1485"/>
<path class="me" stroke="url(#g22)" stroke-width="7" d="M1567 1664Q1490 1620 1471 1485"/>
<path class="me" stroke="url(#g23)" stroke-width="7" d="M1333 1934C1320 1800 1350 1600 1471 1485"/>
<path class="me" stroke="url(#g24)" stroke-width="7" d="M1545 1968C1450 1880 1430 1700 1471 1485"/>
<path class="me" stroke="url(#g25)" stroke-width="7" d="M1139 2010C1250 1850 1400 1700 1471 1485"/>
</g>
</g>
<g id="nodes">
<g id="n-waste-top"><ellipse cx="948" cy="130" rx="20" ry="22" class="nfo"/><text class="lb fd" x="815" y="144" font-size="42" textLength="140" lengthAdjust="spacingAndGlyphs">waste</text></g>
<g id="n-review"><ellipse cx="1142" cy="134" rx="18" ry="20" class="nfo"/><text class="lb fd" x="1142" y="148" font-size="42" textLength="146" lengthAdjust="spacingAndGlyphs">review</text></g>
<g id="n-pyrolysis"><ellipse cx="866" cy="268" rx="20" ry="22" class="nfo"/><text class="lb fd" x="869" y="282" font-size="42" textLength="194" lengthAdjust="spacingAndGlyphs">pyrolysis</text></g>
<g id="n-orange-a"><ellipse cx="1057" cy="284" rx="20" ry="22" class="nfo"/></g>
<g id="n-catalytic-pyrolysis"><ellipse cx="1246" cy="268" rx="20" ry="22" class="nfo"/><text class="lb fd" x="1246" y="282" font-size="42" textLength="385" lengthAdjust="spacingAndGlyphs">catalytic pyrolysis</text></g>
<g id="n-environmental-impact"><ellipse cx="627" cy="388" rx="20" ry="22" class="nfo"/><text class="lb fd" x="627" y="403" font-size="44" textLength="484" lengthAdjust="spacingAndGlyphs">environmental impact</text></g>
<g id="n-orange-b"><ellipse cx="535" cy="543" rx="20" ry="22" class="nfo"/></g>
<g id="n-orange-c"><ellipse cx="707" cy="580" rx="20" ry="22" class="nfo"/></g>
<g id="n-pink"><ellipse cx="1199" cy="655" rx="28" ry="30" class="nfp"/></g>
<g id="n-medical-waste"><ellipse cx="1037" cy="460" rx="30" ry="33" class="nR"/><text class="lb" x="1035" y="475" font-size="44" textLength="338" lengthAdjust="spacingAndGlyphs">medical waste</text></g>
<g id="n-hospital-waste"><ellipse cx="1368" cy="535" rx="34" ry="37" class="nR"/><text class="lb" x="1369" y="552" font-size="50" textLength="363" lengthAdjust="spacingAndGlyphs">hospital waste</text></g>
<g id="n-medical-waste-management"><ellipse cx="965" cy="635" rx="25" ry="28" class="nR"/><text class="lb" x="969" y="650" font-size="46" textLength="610" lengthAdjust="spacingAndGlyphs">medical waste management</text></g>
<g id="n-health-care"><ellipse cx="1530" cy="640" rx="20" ry="22" class="nfo"/><text class="lb fd" x="1532" y="654" font-size="42" textLength="239" lengthAdjust="spacingAndGlyphs">health care</text></g>
<g id="n-waste-left"><ellipse cx="309" cy="819" rx="18" ry="20" class="nfo"/><text class="lb fd" x="300" y="833" font-size="42" textLength="120" lengthAdjust="spacingAndGlyphs">waste</text></g>
<g id="n-orange-d"><ellipse cx="1493" cy="808" rx="26" ry="28" class="nfo"/></g>
<g id="n-viral-disease"><ellipse cx="502" cy="814" rx="29" ry="32" class="nG"/><text class="lb" x="502" y="829" font-size="44" textLength="295" lengthAdjust="spacingAndGlyphs">viral disease</text></g>
<g id="n-plastic"><ellipse cx="777" cy="864" rx="25" ry="28" class="nR"/><text class="lb" x="779" y="878" font-size="42" textLength="140" lengthAdjust="spacingAndGlyphs">plastic</text></g>
<g id="n-plastic-waste"><ellipse cx="1309" cy="858" rx="30" ry="33" class="nR"/><text class="lb" x="1308" y="873" font-size="44" textLength="303" lengthAdjust="spacingAndGlyphs">plastic waste</text></g>
<g id="n-waste-treatment"><ellipse cx="1853" cy="808" rx="28" ry="30" class="nfg"/><text class="lb fd" x="1852" y="825" font-size="52" textLength="420" lengthAdjust="spacingAndGlyphs">waste treatment</text></g>
<g id="n-disinfection"><ellipse cx="580" cy="1008" rx="20" ry="22" class="nfg"/><text class="lb fd" x="581" y="1022" font-size="42" textLength="260" lengthAdjust="spacingAndGlyphs">disinfection</text></g>
<g id="n-diagnosis"><ellipse cx="2354" cy="1022" rx="22" ry="24" class="nfg"/><text class="lb fd" x="2355" y="1036" font-size="42" textLength="206" lengthAdjust="spacingAndGlyphs">diagnosis</text></g>
<g id="n-normal-condition"><ellipse cx="2368" cy="1093" rx="27" ry="30" class="nfg"/><text class="lb fd" x="2369" y="1107" font-size="44" textLength="398" lengthAdjust="spacingAndGlyphs">normal condition</text></g>
<g id="n-sustainable-development"><ellipse cx="2321" cy="1150" rx="26" ry="29" class="nB"/><text class="lb fd" x="2320" y="1166" font-size="42" textLength="560" lengthAdjust="spacingAndGlyphs">sustainable development</text></g>
<g id="n-food-waste"><ellipse cx="2040" cy="1197" rx="25" ry="27" class="nB"/><text class="lb" x="2042" y="1211" font-size="42" textLength="247" lengthAdjust="spacingAndGlyphs">food waste</text></g>
<g id="n-coronavirus-disease-2019"><ellipse cx="1000" cy="1063" rx="50" ry="54" class="nG"/><text class="lb" x="1002" y="1083" font-size="60" textLength="722" lengthAdjust="spacingAndGlyphs">coronavirus disease 2019</text></g>
<g id="n-waste-management"><ellipse cx="1702" cy="1037" rx="52" ry="56" class="nB"/><text class="lb" x="1705" y="1056" font-size="58" textLength="561" lengthAdjust="spacingAndGlyphs">waste management</text></g>
<g id="n-epidemic"><ellipse cx="1291" cy="1134" rx="33" ry="36" class="nY"/><text class="lb fd" x="1290" y="1150" font-size="48" textLength="229" lengthAdjust="spacingAndGlyphs">epidemic</text></g>
<g id="n-prevalence"><ellipse cx="440" cy="1165" rx="28" ry="31" class="nG"/><text class="lb" x="439" y="1180" font-size="44" textLength="262" lengthAdjust="spacingAndGlyphs">prevalence</text></g>
<g id="n-covid-19"><ellipse cx="839" cy="1187" rx="67" ry="72" class="nG"/><text class="lb" x="839" y="1210" font-size="70" textLength="281" lengthAdjust="spacingAndGlyphs">covid-19</text></g>
<g id="n-human"><ellipse cx="941" cy="1324" rx="52" ry="55" class="nG"/><text class="lb fd" x="941" y="1343" font-size="56" textLength="193" lengthAdjust="spacingAndGlyphs">human</text></g>
<g id="n-green-e"><ellipse cx="1095" cy="1318" rx="50" ry="54" class="nG"/></g>
<g id="n-environment"><ellipse cx="390" cy="1408" rx="29" ry="32" class="nG"/><text class="lb" x="390" y="1423" font-size="44" textLength="303" lengthAdjust="spacingAndGlyphs">environment</text></g>
<g id="n-sars-cov-2"><ellipse cx="781" cy="1398" rx="53" ry="57" class="nG"/><text class="lb" x="782" y="1417" font-size="58" textLength="299" lengthAdjust="spacingAndGlyphs">sars-cov-2</text></g>
<g id="n-indonesia"><ellipse cx="1471" cy="1485" rx="52" ry="55" class="nB"/><text class="lb" x="1474" y="1504" font-size="56" textLength="280" lengthAdjust="spacingAndGlyphs">indonesia</text></g>
<g id="n-solid-waste"><ellipse cx="1699" cy="1505" rx="27" ry="30" class="nY"/><text class="lb fd" x="1701" y="1519" font-size="42" textLength="243" lengthAdjust="spacingAndGlyphs">solid waste</text></g>
<g id="n-sars-coronavirus"><ellipse cx="201" cy="1600" rx="27" ry="30" class="nG"/><text class="lb" x="206" y="1614" font-size="40" textLength="357" lengthAdjust="spacingAndGlyphs">sars coronavirus</text></g>
<g id="n-pandemic-a"><ellipse cx="848" cy="1615" rx="50" ry="55" class="nG"/></g>
<g id="n-pandemic"><ellipse cx="1012" cy="1617" rx="50" ry="55" class="nG"/><text class="lb" x="1012" y="1637" font-size="60" textLength="285" lengthAdjust="spacingAndGlyphs">pandemic</text></g>
<g id="n-yellow-a"><ellipse cx="1567" cy="1664" rx="24" ry="26" class="nY"/></g>
<g id="n-solid-waste-management"><ellipse cx="1739" cy="1672" rx="33" ry="36" class="nY"/><text class="lb" x="1739" y="1687" font-size="44" textLength="596" lengthAdjust="spacingAndGlyphs">solid waste management</text></g>
<g id="n-wastewater-faded"><ellipse cx="237" cy="1744" rx="27" ry="30" class="nG"/><text class="lb fd" x="237" y="1758" font-size="42" textLength="263" lengthAdjust="spacingAndGlyphs" fill-opacity="0.8">wastewater</text></g>
<g id="n-wastewater"><ellipse cx="430" cy="1772" rx="30" ry="33" class="nG"/><text class="lb" x="428" y="1786" font-size="42" textLength="274" lengthAdjust="spacingAndGlyphs">wastewater</text></g>
<g id="n-virus-transmission"><ellipse cx="451" cy="1923" rx="20" ry="22" class="nfg"/><text class="lb fd" x="452" y="1937" font-size="42" textLength="396" lengthAdjust="spacingAndGlyphs">virus transmission</text></g>
<g id="n-management"><ellipse cx="1333" cy="1934" rx="26" ry="28" class="nY"/><text class="lb" x="1338" y="1948" font-size="42" textLength="289" lengthAdjust="spacingAndGlyphs">management</text></g>
<g id="n-solid-wastes"><ellipse cx="1545" cy="1968" rx="30" ry="32" class="nY"/><text class="lb fd" x="1545" y="1982" font-size="42" textLength="264" lengthAdjust="spacingAndGlyphs">solid wastes</text></g>
<g id="n-coronavirus"><ellipse cx="1139" cy="2010" rx="26" ry="28" class="nY"/><text class="lb" x="1140" y="2024" font-size="42" textLength="261" lengthAdjust="spacingAndGlyphs">coronavirus</text></g>
</g>
<path id="cluster-overlay" fill="#fcf83c" fill-opacity="0.4" d="M1137 14C1290 14 1430 90 1560 200C1800 330 2100 560 2300 820C2440 935 2530 1000 2528 1090C2526 1150 2470 1170 2380 1160C2200 1130 2000 1010 1800 935C1650 885 1520 905 1480 840C1460 790 1468 680 1462 590C1452 470 1340 395 1200 375C1100 362 1000 360 970 410C940 460 945 560 905 615C860 670 760 690 600 705C500 715 440 735 415 790C395 840 395 905 335 910C275 915 245 880 246 800C247 700 300 600 380 510C600 260 850 14 1137 14Z"/>
</svg>
